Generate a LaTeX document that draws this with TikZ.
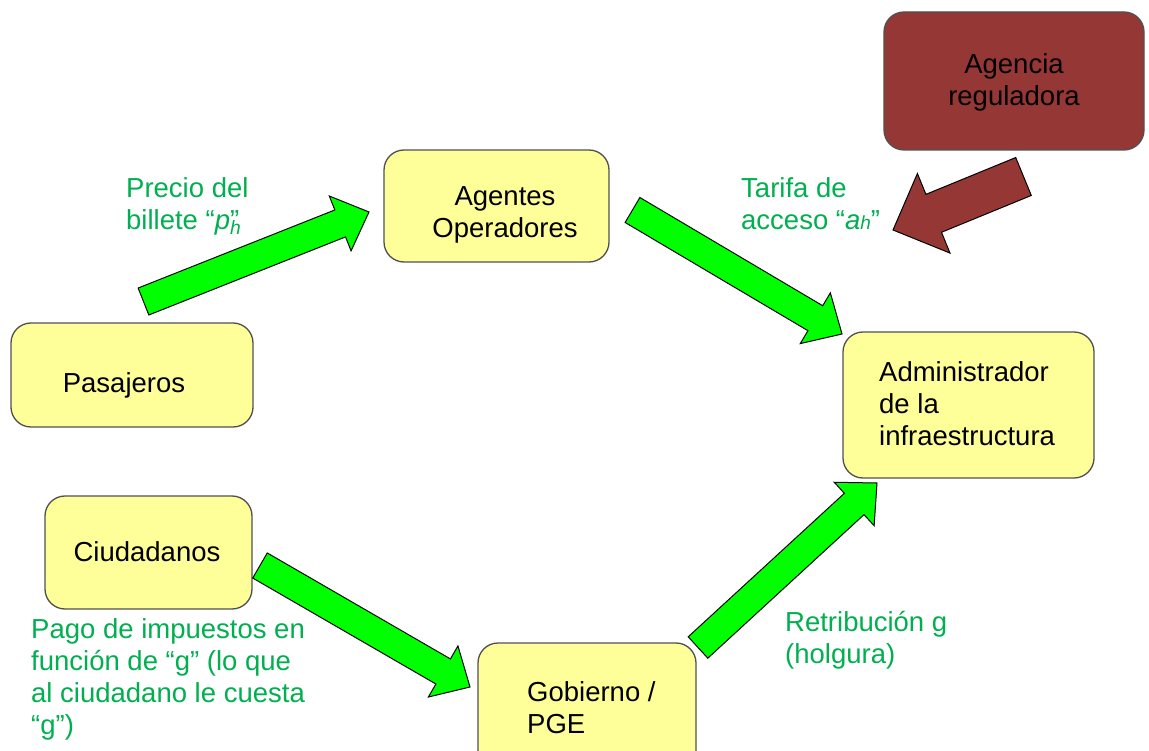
\documentclass[tikz,border=0pt]{standalone}
\usepackage{fontspec}
\setmainfont{Liberation Sans}
\usetikzlibrary{calc}

\definecolor{boxfill}{HTML}{FFFF99}
\definecolor{boxline}{HTML}{505050}
\definecolor{agencyred}{HTML}{953735}
\definecolor{labelgreen}{HTML}{00B050}
\definecolor{arrowgreen}{HTML}{00FF00}

% block arrow: fill, tail, tip, half shaft, half head, head length
\newcommand{\fatarrow}[6]{%
  \coordinate (hb) at ($(#3)!#6!(#2)$);
  \draw[line width=1pt, fill=#1, line join=miter]
    ($(#2)!#4!90:(#3)$) -- ($(hb)!#4!90:(#3)$) -- ($(hb)!#5!90:(#3)$) -- (#3)
    -- ($(hb)!#5!-90:(#3)$) -- ($(hb)!#4!-90:(#3)$) -- ($(#2)!#4!-90:(#3)$) -- cycle;
}

\begin{document}
\begin{tikzpicture}[x=1pt, y=-1pt,
    every node/.style={font=\fontsize{27.5}{32}\selectfont},
    box/.style={draw=boxline, line width=1.3pt, fill=boxfill, rounded corners=20pt},
    txt/.style={inner sep=0pt},
    lbl/.style={text=labelgreen, anchor=west, align=left, inner sep=0pt}]
  \useasboundingbox[fill=white] (0,0) rectangle (1149,751);

  % boxes
  \node[box, minimum width=242, minimum height=104] (pasajeros) at (132,375) {};
  \node[box, minimum width=225, minimum height=112] (agentes) at (496.5,206) {};
  \node[box, minimum width=207, minimum height=113] (ciudadanos) at (148.5,552.5) {};
  \node[box, minimum width=218, minimum height=127] (gobierno) at (587,706.5) {};
  \node[box, minimum width=251, minimum height=146] (admin) at (968.5,405) {};
  \node[box, fill=agencyred, minimum width=260, minimum height=138] (agencia) at (1014,81) {};

  % box texts
  \node[txt] (pasajeros-t) at (124,385) {Pasajeros};
  \node[txt, align=center] (agentes-t) at (505,215) {Agentes\\Operadores};
  \node[txt] (ciudadanos-t) at (147,552) {Ciudadanos};
  \node[txt, anchor=west, align=left] (gobierno-t) at (527,707.5) {Gobierno /\\PGE};
  \node[txt, anchor=west, align=left] (admin-t) at (879,404) {Administrador\\de la\\infraestructura};
  \node[txt, align=center] (agencia-t) at (1014,82) {Agencia\\reguladora};

  % labels
  \node[lbl] (precio) at (126,206) {Precio del\\billete “\textit{p}\rlap{\textsubscript{\textit{h}}}”};
  \node[lbl] (tarifa) at (741,204) {Tarifa de\\acceso “\textit{a}{\fontsize{19}{20}\selectfont\textit{h}}”};
  \node[lbl] (pago) at (31,679) {Pago de impuestos en\\función de “g” (lo que\\al ciudadano le cuesta\\“g”)};
  \node[lbl] (retribucion) at (785,640.5) {Retribución g\\(holgura)};

  % arrow ends
  \coordinate (t1) at (143.5,301.5);  \coordinate (h1) at (369,212);
  \coordinate (t2) at (632.5,210);    \coordinate (h2) at (842,334);
  \coordinate (t3) at (260,565.5);    \coordinate (h3) at (470,687);
  \coordinate (t4) at (698,647.5);    \coordinate (h4) at (877,483);
  \coordinate (t5) at (1023.5,176.5); \coordinate (h5) at (893,230);

  \foreach \a in {1,2,3,4} {
    \fatarrow{arrowgreen}{t\a}{h\a}{14.5pt}{29.5pt}{31pt}
  }
  \fatarrow{agencyred}{t5}{h5}{20.5pt}{43pt}{44pt}
\end{tikzpicture}
\end{document}
